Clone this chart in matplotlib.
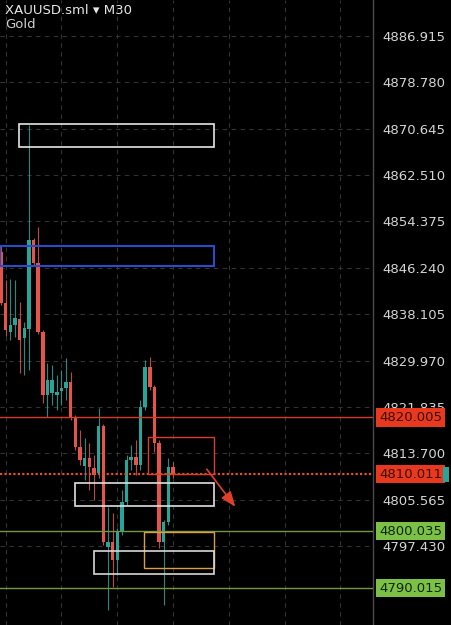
import matplotlib
matplotlib.use('Agg')
from matplotlib import pyplot as plt
import matplotlib.patches as mpatches
import numpy as np

# M30 candles, XAUUSD
opens = [4849.02, 4840.07, 4834.99, 4836.21, 4837.26, 4833.93, 4835.51, 4851.13,
         4847.09, 4834.99, 4823.93, 4824.28, 4823.93, 4824.63, 4825.16, 4826.21,
         4819.90, 4814.81, 4811.48, 4812.88, 4811.13, 4810.25, 4818.49, 4797.27,
         4798.14, 4794.98, 4799.90, 4805.16, 4812.53, 4813.06, 4811.65, 4821.82,
         4828.85, 4825.34, 4815.51, 4798.14, 4801.65, 4811.30]
highs = [4850.25, 4844.11, 4844.28, 4844.11, 4840.25, 4836.74, 4871.30, 4851.48,
         4853.40, 4835.34, 4829.55, 4829.20, 4827.44, 4828.32, 4830.42, 4827.97,
         4820.42, 4817.79, 4816.39, 4815.51, 4813.41, 4821.65, 4818.85, 4804.28,
         4803.23, 4800.60, 4807.26, 4813.41, 4815.16, 4816.04, 4823.05, 4830.07,
         4830.60, 4825.69, 4816.04, 4802.00, 4812.88, 4812.18]
lows = [4839.72, 4834.28, 4833.58, 4834.11, 4827.79, 4827.44, 4828.32, 4846.56,
        4834.63, 4822.53, 4820.07, 4822.18, 4821.30, 4822.18, 4823.05, 4819.55,
        4814.28, 4811.65, 4809.02, 4807.26, 4805.51, 4809.37, 4797.62, 4786.21,
        4790.25, 4792.35, 4799.37, 4804.63, 4810.78, 4809.90, 4810.78, 4821.30,
        4824.81, 4813.93, 4797.09, 4787.09, 4801.12, 4809.37]
closes = [4840.07, 4835.34, 4836.21, 4837.44, 4833.58, 4835.68, 4851.13, 4847.09,
          4834.99, 4823.93, 4826.56, 4826.56, 4824.46, 4825.16, 4826.21, 4819.90,
          4814.81, 4812.53, 4812.88, 4811.30, 4809.90, 4818.49, 4798.14, 4798.14,
          4794.98, 4799.90, 4805.16, 4812.53, 4813.06, 4811.65, 4821.82, 4828.85,
          4825.34, 4815.51, 4798.14, 4801.65, 4811.30, 4810.01]

price_ticks = [4886.915, 4878.780, 4870.645, 4862.510, 4854.375, 4846.240,
               4838.105, 4829.970, 4821.835, 4813.700, 4805.565, 4797.430]

# horizontal levels
levels = [4820.005, 4810.011, 4800.035, 4790.015]

# zones drawn on the chart: (x0, x1 in bars, top, bottom price)
zone_white_top = (3.9, 45.8, 4871.48, 4867.44)
zone_blue = (-0.2, 45.8, 4850.10, 4846.60)
zone_red = (31.6, 45.8, 4816.56, 4810.01)
zone_white_mid = (15.9, 45.8, 4808.49, 4804.46)
zone_gold = (30.75, 45.8, 4799.90, 4793.58)
zone_white_low = (20.0, 45.8, 4796.56, 4792.53)

arrow_from = (43.9, 4811.30)
arrow_to = (50.75, 4803.93)

UP = '#26a69a'
DOWN = '#e5534b'
BG = '#000000'

fig = plt.figure(figsize=(4.52, 6.25), dpi=100, facecolor=BG)
ax = fig.add_axes([0, 0, 373 / 452, 1])
ax.set_facecolor(BG)

x = np.arange(len(opens))
o = np.array(opens)
c = np.array(closes)
cols = [UP if cc >= oo else DOWN for oo, cc in zip(o, c)]

# grid
for gx in range(1, 80, 12):
    ax.axvline(gx, color='#333333', lw=0.8, ls=(0, (4, 4)), zorder=0)
for p in price_ticks:
    ax.axhline(p, color='#333333', lw=0.8, ls=(0, (4, 4)), zorder=0)

ax.vlines(x, lows, highs, colors=cols, lw=0.8, alpha=0.85, zorder=2)
body = np.maximum(np.abs(c - o), 0.15)
ax.bar(x, body, bottom=np.minimum(o, c), width=0.75, color=cols, zorder=3)

# levels
ax.axhline(levels[0], color='#d93a26', lw=1.0, zorder=4)
ax.axhline(levels[1], color='#e0502a', lw=1.6, ls=(0, (1, 1)), zorder=4)
ax.axhline(levels[2], color='#6e9a44', lw=1.0, zorder=4)
ax.axhline(levels[3], color='#6e9a44', lw=1.0, zorder=4)

def zone(z, color, lw):
    x0, x1, top, bot = z
    ax.add_patch(mpatches.Rectangle((x0, bot), x1 - x0, top - bot, fill=False,
                                    edgecolor=color, linewidth=lw, zorder=5))

zone(zone_white_top, '#e6e6e6', 1.2)
zone(zone_blue, '#2b4cc8', 1.5)
zone(zone_red, '#d9402a', 1.0)
zone(zone_white_mid, '#e0e0e0', 1.2)
zone(zone_gold, '#d8a040', 1.0)
zone(zone_white_low, '#d8d8d8', 1.2)

ax.annotate('', xy=arrow_to, xytext=arrow_from,
            arrowprops=dict(arrowstyle='-|>,head_length=0.9,head_width=0.35',
                            color='#e0402a', lw=1.2), zorder=6)

ax.set_xlim(-0.215, 80.0)
ax.set_ylim(4783.58, 4893.23)

ax.yaxis.tick_right()
ax.set_yticks(price_ticks)
ax.set_yticklabels(['%.3f' % p for p in price_ticks])
ax.tick_params(axis='y', length=0, pad=7, labelsize=9.5, labelcolor='#d4d4d4')
ax.set_xticks([])
for s in ['left', 'top', 'bottom']:
    ax.spines[s].set_visible(False)
ax.spines['right'].set_color('#4a4a4a')
ax.spines['right'].set_linewidth(1.0)

# price labels on the axis
tr = ax.get_yaxis_transform()
lab_x = 379 / 373
label_style = [('#e8391f', '#3a0c06'), ('#e8391f', '#3a0c06'),
               ('#7cc045', '#10260a'), ('#7cc045', '#10260a')]
for p, (bg, fg) in zip(levels, label_style):
    ax.text(lab_x, p, '%.3f' % p, transform=tr, va='center', ha='left',
            fontsize=9.5, color=fg, clip_on=False, zorder=10,
            bbox=dict(boxstyle='square,pad=0.2', fc=bg, ec='none'))
fig.patches.append(mpatches.Rectangle((443 / 452, 1 - 482 / 625), 6 / 452, 15 / 625,
                                      transform=fig.transFigure, fc=UP, ec='none'))

fig.text(5 / 452, 1 - 10 / 625, 'XAUUSD.sml \u25be M30', color='#e6e6e6',
         fontsize=9.5, va='center', ha='left')
fig.text(5 / 452, 1 - 25 / 625, 'Gold', color='#d0d0d0',
         fontsize=9.5, va='center', ha='left')

fig.savefig('out.png', dpi=100, facecolor=BG)
